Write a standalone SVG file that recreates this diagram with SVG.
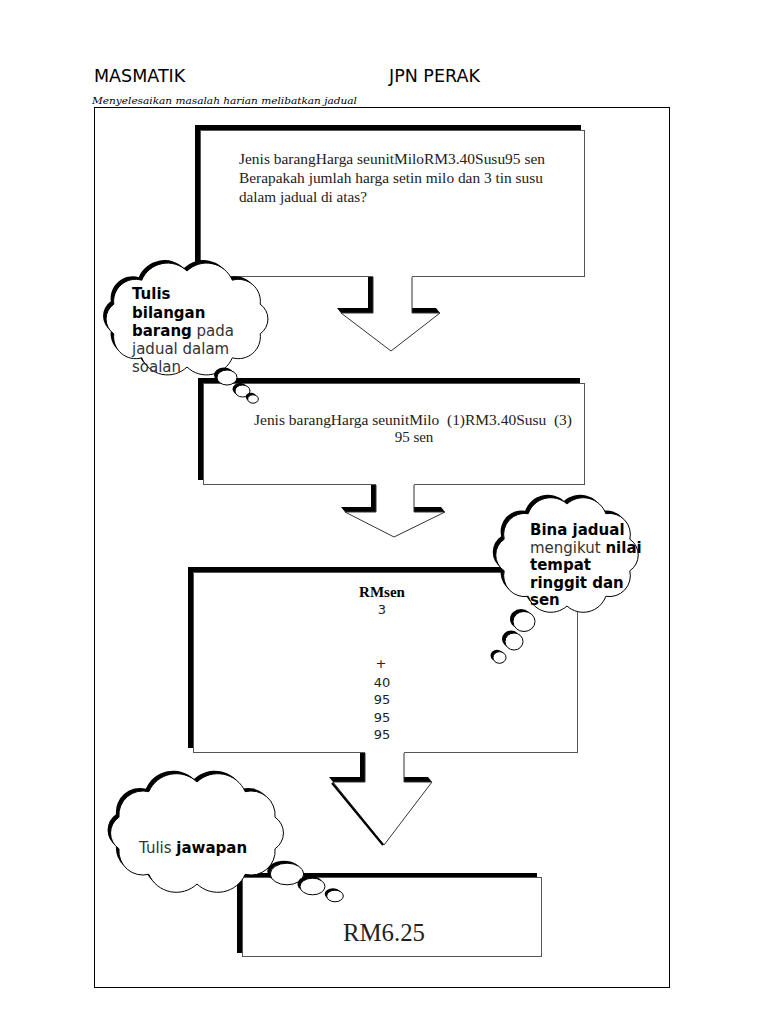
<svg xmlns="http://www.w3.org/2000/svg" width="768" height="1024" viewBox="0 0 768 1024">
<style>
.frame{fill:none;stroke:#000;stroke-width:1}
.box{fill:#fff;stroke:#555;stroke-width:1}
.sh{fill:#000}
.cloud{fill:#fff;stroke:#000;stroke-width:1}
.arr{fill:#fff;stroke:none}
.arrl{fill:none;stroke:#333;stroke-width:1}
.hd{font-family:"DejaVu Sans","Liberation Sans",sans-serif;font-size:17.5px;fill:#000}
.sub{font-family:"DejaVu Serif","Liberation Serif",serif;font-style:italic;font-size:10px;fill:#000}
.ser{font-family:"Liberation Serif","Times New Roman",serif;font-size:15px;fill:#222}
.big{font-size:26px}
.num{font-family:"DejaVu Sans","Liberation Sans",sans-serif;font-size:13px;fill:#222;text-anchor:middle}
.ct{font-family:"DejaVu Sans","Liberation Sans",sans-serif;font-size:15px;fill:#333}
.b{font-weight:bold;fill:#000}
</style>
<defs>
<path id="c1" d="M187,271 A28,28 0 0 1 232.3,280.2 A22,22 0 0 1 260.2,304.2 A18,18 0 0 1 260.2,333.8 A22,22 0 0 1 232.3,357.8 A28,28 0 0 1 187,367 A28,28 0 0 1 141.7,357.8 A22,22 0 0 1 113.8,333.8 A18,18 0 0 1 113.8,304.2 A22,22 0 0 1 141.7,280.2 A28,28 0 0 1 187,271 Z"/>
<path id="c2" d="M567,504 A24,24 0 0 1 605.8,513.7 A21,21 0 0 1 629.8,539.2 A19,19 0 0 1 629.8,570.8 A21,21 0 0 1 605.8,596.3 A24,24 0 0 1 567,606 A24,24 0 0 1 528.2,596.3 A21,21 0 0 1 504.2,570.8 A19,19 0 0 1 504.2,539.2 A21,21 0 0 1 528.2,513.7 A24,24 0 0 1 567,504 Z"/>
<path id="c3" d="M197,782 A30,30 0 0 1 245.2,791.7 A24,24 0 0 1 275,817.2 A19,19 0 0 1 275,848.8 A24,24 0 0 1 245.2,874.3 A30,30 0 0 1 197,884 A30,30 0 0 1 148.8,874.3 A24,24 0 0 1 119,848.8 A19,19 0 0 1 119,817.2 A24,24 0 0 1 148.8,791.7 A30,30 0 0 1 197,782 Z"/>
</defs>

<rect width="768" height="1024" fill="#fff"/>

<g id="header">
<text class="hd" x="94" y="82">MASMATIK</text>
<text class="hd" x="389" y="82">JPN PERAK</text>
<text class="sub" x="92" y="104" textLength="265" lengthAdjust="spacingAndGlyphs">Menyelesaikan masalah harian melibatkan jadual</text>
<rect class="frame" x="94.5" y="107.5" width="575" height="880"/>
</g>

<g id="box1">
<rect class="sh" x="195" y="125" width="386" height="147"/>
<rect class="box" x="200.5" y="130.5" width="384" height="146"/>
<text class="ser" x="239" y="164" textLength="306" lengthAdjust="spacingAndGlyphs">Jenis barangHarga seunitMiloRM3.40Susu95 sen</text>
<text class="ser" x="239" y="183" textLength="304" lengthAdjust="spacingAndGlyphs">Berapakah jumlah harga setin milo dan 3 tin susu</text>
<text class="ser" x="239" y="202" textLength="128" lengthAdjust="spacingAndGlyphs">dalam jadual di atas?</text>
</g>

<g id="box2">
<rect class="sh" x="198" y="378" width="382" height="102"/>
<rect class="box" x="203.5" y="383.5" width="381" height="101"/>
<text class="ser" x="413" y="425" text-anchor="middle" xml:space="preserve" textLength="318" lengthAdjust="spacingAndGlyphs">Jenis barangHarga seunitMilo  (1)RM3.40Susu  (3)</text>
<text class="ser" x="414" y="442" text-anchor="middle">95 sen</text>
</g>

<g id="box3">
<rect class="sh" x="188" y="567" width="385" height="181"/>
<rect class="box" x="193.5" y="572.5" width="384" height="180"/>
<text class="ser b" x="382" y="597" text-anchor="middle">RMsen</text>
<text class="num" x="382" y="614">3</text>
<text class="num" x="381" y="668">+</text>
<text class="num" x="382" y="687">40</text>
<text class="num" x="382" y="704">95</text>
<text class="num" x="382" y="722">95</text>
<text class="num" x="382" y="739">95</text>
</g>

<g id="box4">
<rect class="sh" x="237" y="873" width="300" height="80"/>
<rect class="box" x="242.5" y="877.5" width="299" height="79"/>
<text class="ser big" x="384" y="941" text-anchor="middle" textLength="82" lengthAdjust="spacingAndGlyphs">RM6.25</text>
</g>

<g id="connectors">
<g id="arrow1">
<polygon class="sh" points="368,277 373,277 373,313 341,313 337,308 368,308"/>
<polygon class="sh" points="412,308 436,308 440,313 412,313"/>
<polygon class="arr" points="373,276 373,313 341,313 391,351 440,313 412,313 412,276"/>
<polyline class="arrl" points="373,277 373,313 341,313 391,351 440,313 412,313 412,277"/>
</g>
<g id="arrow2">
<polygon class="sh" points="371,485 376,485 376,512 345,512 341,507 371,507"/>
<polygon class="sh" points="414,507 441,507 445,512 414,512"/>
<polygon class="arr" points="376,484 376,512 345,512 394,537 445,512 414,512 414,484"/>
<polyline class="arrl" points="376,485 376,512 345,512 394,537 445,512 414,512 414,485"/>
</g>
<g id="arrow3">
<polygon class="sh" points="360,753 365,753 365,782 333,782 329,777 360,777"/>
<polygon class="sh" points="404,777 428,777 432,782 404,782"/>
<polygon class="arr" points="365,752 365,782 333,782 384,845 432,782 404,782 404,752"/>
<polyline class="arrl" points="365,753 365,782 333,782 384,845 432,782 404,782 404,753"/>
<line x1="332" y1="783" x2="383" y2="845" stroke="#000" stroke-width="2"/>
</g>
</g>

<g id="cloud1">
<use href="#c1" class="sh" transform="translate(-3,-3)"/>
<use href="#c1" class="cloud"/>
<ellipse class="sh" cx="224" cy="375" rx="10" ry="7.5"/>
<ellipse class="cloud" cx="227" cy="377.5" rx="10" ry="7.5"/>
<ellipse class="sh" cx="240" cy="389" rx="7.5" ry="6"/>
<ellipse class="cloud" cx="242.5" cy="391" rx="7.5" ry="6"/>
<ellipse class="sh" cx="251" cy="397" rx="5.3" ry="4.2"/>
<ellipse class="cloud" cx="253" cy="399" rx="5.3" ry="4.2"/>
<text class="ct b" x="132" y="299">Tulis</text>
<text class="ct b" x="132" y="318">bilangan</text>
<text class="ct" x="132" y="336"><tspan class="b">barang</tspan> pada</text>
<text class="ct" x="132" y="354">jadual dalam</text>
<text class="ct" x="132" y="372">soalan</text>
</g>

<g id="cloud2">
<use href="#c2" class="sh" transform="translate(-3,-3)"/>
<use href="#c2" class="cloud"/>
<ellipse class="sh" cx="521" cy="619" rx="11" ry="10"/>
<ellipse class="cloud" cx="524" cy="621.5" rx="11" ry="10"/>
<ellipse class="sh" cx="511" cy="639" rx="9" ry="8.5"/>
<ellipse class="cloud" cx="514" cy="641.5" rx="9" ry="8.5"/>
<ellipse class="sh" cx="497" cy="655.5" rx="6.5" ry="5.8"/>
<ellipse class="cloud" cx="499.5" cy="657.5" rx="6.5" ry="5.8"/>
<text class="ct b" x="530" y="535">Bina jadual</text>
<text class="ct" x="530" y="553">mengikut <tspan class="b">nilai</tspan></text>
<text class="ct b" x="530" y="570">tempat</text>
<text class="ct b" x="530" y="588">ringgit dan</text>
<text class="ct b" x="530" y="605">sen</text>
</g>

<g id="cloud3">
<use href="#c3" class="sh" transform="translate(-3,-3)"/>
<use href="#c3" class="cloud"/>
<ellipse class="sh" cx="284" cy="871.5" rx="16.7" ry="10.8"/>
<ellipse class="cloud" cx="287" cy="874" rx="16.7" ry="10.8"/>
<ellipse class="sh" cx="310" cy="884" rx="12.5" ry="8.3"/>
<ellipse class="cloud" cx="312.5" cy="886.5" rx="12.5" ry="8.3"/>
<ellipse class="sh" cx="333" cy="894" rx="8.3" ry="5.8"/>
<ellipse class="cloud" cx="335" cy="896" rx="8.3" ry="5.8"/>
<text class="ct" x="139" y="853">Tulis <tspan class="b">jawapan</tspan></text>
</g>
</svg>
